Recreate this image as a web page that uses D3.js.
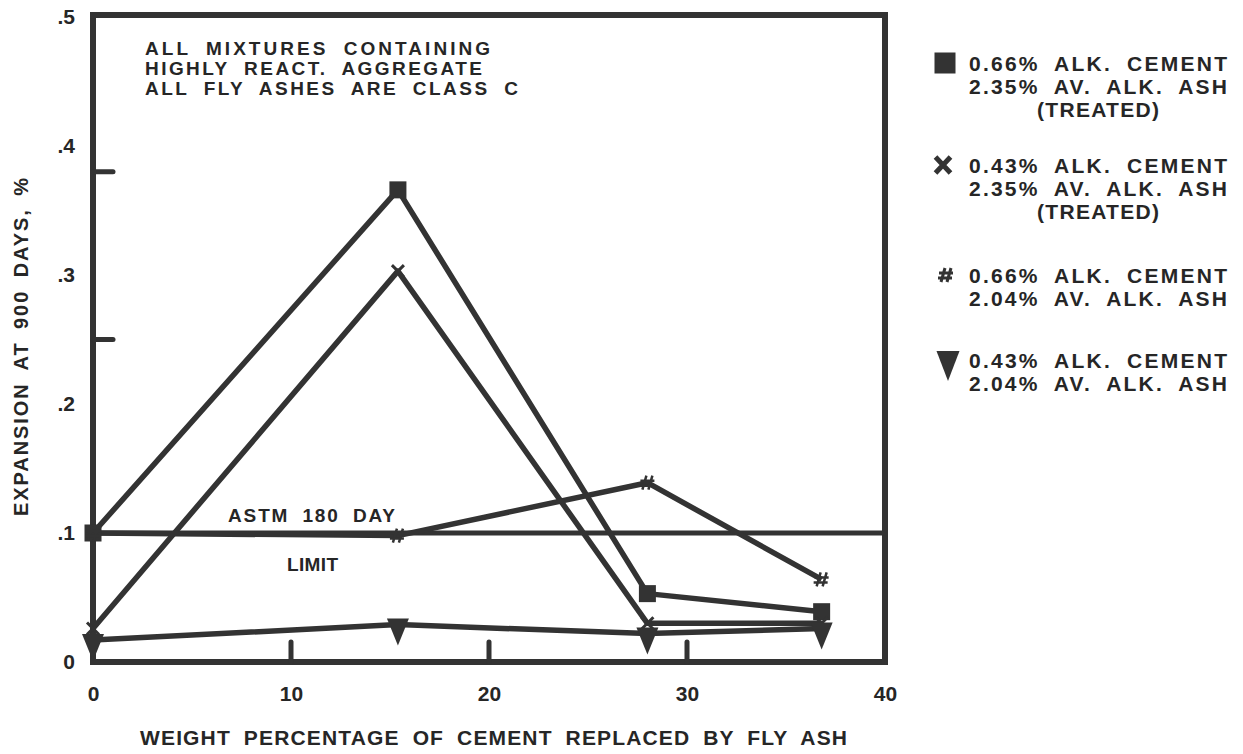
<!DOCTYPE html>
<html>
<head>
<meta charset="utf-8">
<script src="https://cdn.jsdelivr.net/npm/d3@7"></script>
<style>
  body { margin: 0; background: #fff; }
  svg { display: block; }
  text { font-family: "Liberation Sans", Arial, sans-serif; font-weight: bold; fill: #262626; }
</style>
</head>
<body>
<svg id="chart" width="1243" height="754"></svg>
<script>
// data
var xVals = [0, 15.4, 28, 36.8];
var sqVals = [0.100, 0.366, 0.053, 0.039];   // 0.66% cement, 2.35% ash treated
var crossVals = [0.026, 0.303, 0.030, 0.030]; // 0.43% cement, 2.35% ash treated
var hashVals = [0.100, 0.098, 0.139, 0.064];  // 0.66% cement, 2.04% ash
var triVals = [0.017, 0.029, 0.022, 0.026];   // 0.43% cement, 2.04% ash

var xTicks = [0, 10, 20, 30, 40];
var xInnerTicks = [10, 20, 30];
var yTicks = [0, 0.1, 0.2, 0.3, 0.4, 0.5];
var yInnerTicks = [0.38, 0.25];
var astmLimit = 0.1;

var noteLines = ["ALL MIXTURES CONTAINING", "HIGHLY REACT. AGGREGATE", "ALL FLY ASHES ARE CLASS C"];
var legendItems = [
    { marker: "square", lines: ["0.66% ALK. CEMENT", "2.35% AV. ALK. ASH", "(TREATED)"] },
    { marker: "cross", lines: ["0.43% ALK. CEMENT", "2.35% AV. ALK. ASH", "(TREATED)"] },
    { marker: "hash", lines: ["0.66% ALK. CEMENT", "2.04% AV. ALK. ASH"] },
    { marker: "tri", lines: ["0.43% ALK. CEMENT", "2.04% AV. ALK. ASH"] }
];

var ink = "#333";
var svg = d3.select("#chart");

var x = d3.scaleLinear().domain([0, 40]).range([93, 885]);
var y = d3.scaleLinear().domain([0, 0.5]).range([662, 17]);

// frame
svg.append("rect")
    .attr("x", x(0)).attr("y", y(0.5) - 2)
    .attr("width", x(40) - x(0)).attr("height", y(0) - y(0.5) + 2)
    .attr("fill", "none").attr("stroke", ink).attr("stroke-width", 6);

// axes (labels only)
var yAxis = d3.axisLeft(y).tickValues(yTicks).tickSize(0).tickPadding(18)
    .tickFormat(function (d) { return d == 0 ? "0" : d3.format(".1f")(d).replace(/^0/, ""); });
var gy = svg.append("g").attr("transform", "translate(" + x(0) + ",0)").call(yAxis);
gy.select(".domain").remove();
gy.selectAll("text").style("font-size", "21px").attr("fill", "#262626");

var xAxis = d3.axisBottom(x).tickValues(xTicks).tickSize(0).tickPadding(24);
var gx = svg.append("g").attr("transform", "translate(0," + y(0) + ")").call(xAxis);
gx.select(".domain").remove();
gx.selectAll("text").style("font-size", "21px").attr("fill", "#262626");

// inner ticks
svg.selectAll(".xtick").data(xInnerTicks).enter().append("line")
    .attr("x1", function (d) { return x(d); }).attr("x2", function (d) { return x(d); })
    .attr("y1", y(0)).attr("y2", y(0) - 20)
    .attr("stroke", ink).attr("stroke-width", 5).attr("stroke-linecap", "round");
svg.selectAll(".ytick").data(yInnerTicks).enter().append("line")
    .attr("x1", x(0)).attr("x2", x(0) + 20)
    .attr("y1", function (d) { return y(d); }).attr("y2", function (d) { return y(d); })
    .attr("stroke", ink).attr("stroke-width", 5).attr("stroke-linecap", "round");

// ASTM limit line
svg.append("line")
    .attr("x1", x(0)).attr("x2", x(40))
    .attr("y1", y(astmLimit)).attr("y2", y(astmLimit))
    .attr("stroke", ink).attr("stroke-width", 5);
svg.append("text").attr("x", 228).attr("y", 522).attr("textLength", 167)
    .attr("lengthAdjust", "spacing").style("font-size", "19px").style("word-spacing", "6px")
    .text("ASTM 180 DAY");
svg.append("text").attr("x", 287).attr("y", 571).attr("textLength", 51)
    .attr("lengthAdjust", "spacing").style("font-size", "19px").text("LIMIT");

// series lines
var series = [
    { vals: sqVals, marker: "square" },
    { vals: crossVals, marker: "cross" },
    { vals: hashVals, marker: "hash" },
    { vals: triVals, marker: "tri" }
];
var line = d3.line().x(function (d) { return x(d[0]); }).y(function (d) { return y(d[1]); });

series.forEach(function (s) {
    var pts = xVals.map(function (v, i) { return [v, s.vals[i]]; });
    svg.append("path").attr("d", line(pts))
        .attr("fill", "none").attr("stroke", ink).attr("stroke-width", 5.5)
        .attr("stroke-linejoin", "round");
});

function drawMarker(g, type, cx, cy, big) {
    if (type == "square") {
        var s = big ? 21 : 17;
        g.append("rect").attr("x", cx - s / 2).attr("y", cy - s / 2)
            .attr("width", s).attr("height", s).attr("fill", ink);
    } else if (type == "tri") {
        var w = big ? 23 : 22, h = big ? 30 : 27;
        g.append("path")
            .attr("d", "M" + (cx - w / 2) + "," + (cy - 6) + "L" + (cx + w / 2) + "," + (cy - 6) + "L" + cx + "," + (cy - 6 + h) + "Z")
            .attr("fill", ink);
    } else if (type == "cross") {
        var rx = big ? 7.5 : 6, ry = big ? 8 : 6;
        g.append("path")
            .attr("d", "M" + (cx - rx) + "," + (cy - ry) + "L" + (cx + rx) + "," + (cy + ry) + "M" + (cx + rx) + "," + (cy - ry) + "L" + (cx - rx) + "," + (cy + ry))
            .attr("stroke", ink).attr("stroke-width", big ? 5 : 3);
    } else if (type == "hash") {
        var r2 = 7;
        g.append("path")
            .attr("d", "M" + (cx - 1) + "," + (cy - r2) + "L" + (cx - 5) + "," + (cy + r2) +
                "M" + (cx + 5) + "," + (cy - r2) + "L" + (cx + 1) + "," + (cy + r2) +
                "M" + (cx - 7) + "," + (cy - 2) + "L" + (cx + 7) + "," + (cy - 2) +
                "M" + (cx - 8) + "," + (cy + 3) + "L" + (cx + 6) + "," + (cy + 3))
            .attr("stroke", ink).attr("stroke-width", big ? 3 : 2.5);
    }
}

var gm = svg.append("g");
series.forEach(function (s) {
    xVals.forEach(function (v, i) {
        drawMarker(gm, s.marker, x(v), y(s.vals[i]), false);
    });
});

// note in the plot
svg.selectAll(".note").data(noteLines).enter().append("text")
    .attr("x", 145)
    .attr("y", function (d, i) { return 55 + i * 20; })
    .attr("textLength", function (d, i) { return [345, 337, 373][i]; })
    .attr("lengthAdjust", "spacing")
    .style("font-size", "19px").style("word-spacing", "7px")
    .text(function (d) { return d; });

// legend
var legTop = [71, 173, 283, 368];
var lg = svg.append("g");
legendItems.forEach(function (item, k) {
    item.lines.forEach(function (t, j) {
        var by = legTop[k] + j * 23;
        if (t == "(TREATED)") {
            lg.append("text").attr("x", 1037).attr("y", by).attr("textLength", 122)
                .attr("lengthAdjust", "spacing").style("font-size", "21px").text(t);
        } else {
            lg.append("text").attr("x", 969).attr("y", by).attr("textLength", 258)
                .attr("lengthAdjust", "spacing").style("font-size", "21px").style("word-spacing", "7px").text(t);
        }
    });
    var my = legTop[k] - 8;
    if (item.marker == "square") drawMarker(lg, "square", 945, my, true);
    if (item.marker == "tri") drawMarker(lg, "tri", 948, my - 3, true);
    if (item.marker == "cross") drawMarker(lg, "cross", 943, my, true);
    if (item.marker == "hash") drawMarker(lg, "hash", 946, my, true);
});

// axis titles
svg.append("text").attr("x", 140).attr("y", 745).attr("textLength", 707)
    .attr("lengthAdjust", "spacing").style("font-size", "21px").style("word-spacing", "6px")
    .text("WEIGHT PERCENTAGE OF CEMENT REPLACED BY FLY ASH");
svg.append("text").attr("transform", "translate(28,516) rotate(-90)")
    .attr("x", 0).attr("y", 0).attr("textLength", 338)
    .attr("lengthAdjust", "spacing").style("font-size", "20px").style("word-spacing", "5px")
    .text("EXPANSION AT 900 DAYS, %");
</script>
</body>
</html>
